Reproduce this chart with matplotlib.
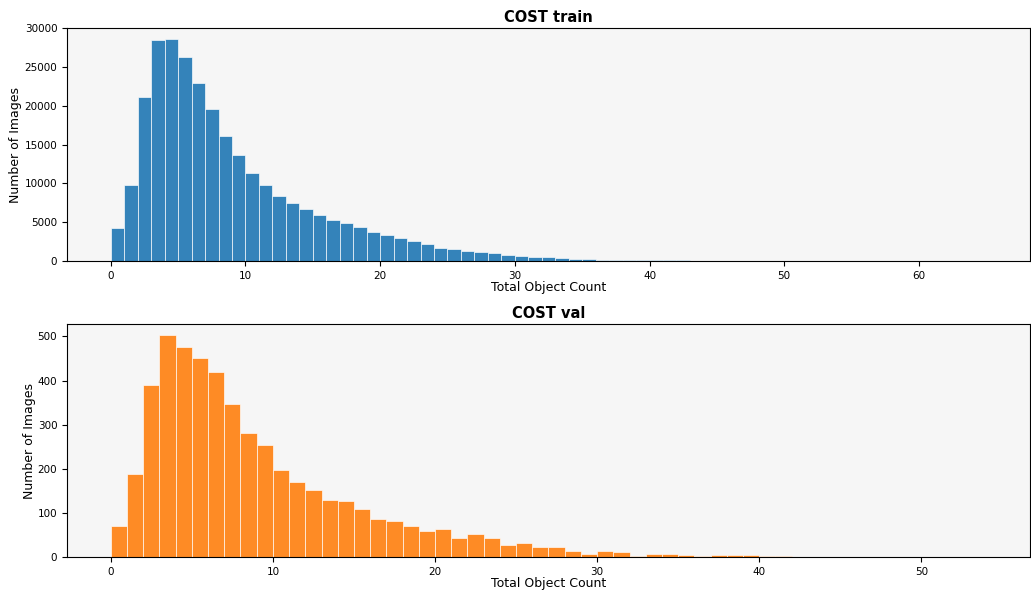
import numpy as np
import matplotlib
matplotlib.use("Agg")
import matplotlib.pyplot as plt

# Histogram counts per unit-width bin (bin i covers [i, i+1))
train_counts = [4250, 9800, 21200, 28450, 28600, 26250, 23000, 19550, 16150, 13700,
                11350, 9800, 8380, 7470, 6700, 5920, 5270, 4880, 4360, 3720,
                3330, 2940, 2550, 2160, 1640, 1510, 1250, 1120, 990, 735,
                605, 475, 470, 345, 215, 210, 180, 175, 170, 165,
                160, 160, 155, 40, 30, 25, 20, 18, 15, 12,
                10, 8, 7, 6, 5, 4, 3, 3, 2, 2,
                2, 1, 1, 1, 1]
val_counts = [71, 189, 389, 503, 476, 451, 419, 348, 282, 253,
              198, 171, 152, 130, 127, 109, 86, 82, 71, 59,
              64, 43, 52, 43, 27, 32, 23, 23, 14, 7,
              14, 11, 2, 7, 7, 4.5, 2, 4.5, 4.5, 4.5,
              2, 2, 1, 1, 0, 1, 0, 1, 0, 0,
              1, 0, 0, 1]

titles = ["COST train", "COST val"]
x_label = "Total Object Count"
y_label = "Number of Images"
colors = ["#1f77b4", "#ff7f0e"]

fig = plt.figure(figsize=(10.31, 5.90), dpi=100)
ax_top = fig.add_axes([0.065, 0.5576, 0.934, 0.3949])
ax_bot = fig.add_axes([0.065, 0.0559, 0.934, 0.3949])

for ax, counts, title, color in zip([ax_top, ax_bot], [train_counts, val_counts], titles, colors):
    counts = np.asarray(counts, dtype=float)
    edges = np.arange(len(counts) + 1)
    ax.set_facecolor("#f6f6f6")
    ax.hist(edges[:-1], bins=edges, weights=counts, color=color, alpha=0.9,
            edgecolor="white", linewidth=0.5)
    ax.set_title(title, fontsize=10.5, fontweight="bold", pad=4)
    ax.set_xlabel(x_label, fontsize=9, labelpad=0.5)
    ax.set_ylabel(y_label, fontsize=9, labelpad=1.5)
    ax.tick_params(axis="both", labelsize=7.5, length=3.5)

fig.savefig("out.png", dpi=100)
